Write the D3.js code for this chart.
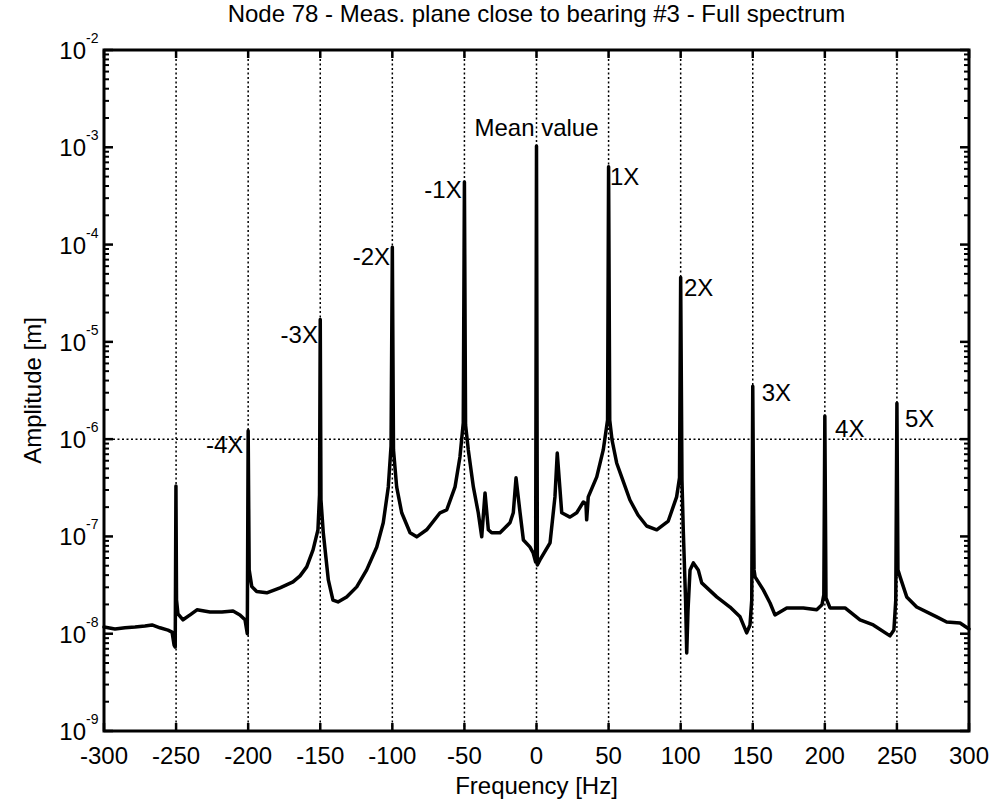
<!DOCTYPE html>
<html><head><meta charset="utf-8">
<script src="https://cdn.jsdelivr.net/npm/d3@7"></script>
<style>body{margin:0;background:#fff}svg text{font-family:"Liberation Sans",Arial,sans-serif;fill:#000}</style>
</head><body><svg id="c" width="998" height="808"></svg>
<script>
const freq = [-300,-292.4,-285.4,-278.5,-271.6,-266.7,-261.2,-255.6,-252.8,-251.4,-250.6,-250.1,-249.7,-248.7,-245.2,-240.3,-235.5,-226.5,-218.2,-210.5,-205.7,-202.2,-200.6,-200.0,-199.3,-197.5,-194.1,-187.1,-177.9,-168.9,-164.0,-159.4,-155.0,-151.6,-150.5,-150.0,-149.5,-147.9,-144.4,-141.2,-137.7,-131.7,-124.7,-117.8,-110.8,-106.3,-102.8,-100.9,-100.0,-99.2,-97.0,-93.5,-87.7,-83.1,-76.2,-66.9,-62.3,-56.5,-53.1,-50.8,-50.0,-49.2,-47.3,-43.8,-40.4,-38.0,-35.7,-33.4,-31.1,-25.3,-18.4,-16.1,-14.2,-11.4,-9.1,-4.6,-2.3,-0.6,0,0.6,2.4,9.4,12.8,14.4,17.5,23.2,27.9,32.5,34.3,34.8,35.9,41.8,46.3,49.3,50.0,50.8,52.4,55.6,59.3,64.8,70.4,76.4,83.4,91.4,97.2,99.2,100.0,100.9,101.8,103.4,104.2,105.1,106.5,108.8,112.2,114.6,125.0,134.2,141.2,145.8,148.1,149.3,150.0,150.9,151.6,157.3,162.0,165.4,173.6,185.1,194.4,198.0,199.3,200.0,200.8,203.6,214.0,224.4,233.6,245.2,247.9,249.2,250.0,250.7,252.2,256.8,263.7,277.6,284.5,293.8,300];
const amp = [1.17e-8,1.12e-8,1.15e-8,1.17e-8,1.20e-8,1.23e-8,1.15e-8,1.09e-8,1.04e-8,7.65e-9,7.3e-9,3.3e-7,2.22e-8,1.60e-8,1.39e-8,1.56e-8,1.76e-8,1.67e-8,1.67e-8,1.71e-8,1.56e-8,1.39e-8,1.0e-8,1.22e-6,4.53e-8,3.05e-8,2.71e-8,2.63e-8,2.96e-8,3.41e-8,3.93e-8,4.86e-8,7.26e-8,1.17e-7,2.67e-7,1.7e-5,2.37e-7,1.09e-7,3.57e-8,2.22e-8,2.12e-8,2.39e-8,3.03e-8,4.53e-8,7.8e-8,1.38e-7,3.23e-7,8.5e-7,9.4e-5,7.75e-7,3.23e-7,1.75e-7,1.09e-7,9.9e-8,1.17e-7,1.75e-7,1.87e-7,3.23e-7,6.56e-7,1.47e-6,4.4e-4,1.40e-6,7.75e-7,3.23e-7,1.75e-7,9.9e-8,2.8e-7,1.17e-7,1.09e-7,1.09e-7,1.38e-7,1.75e-7,4.0e-7,1.75e-7,9.2e-8,7.8e-8,6.76e-8,5.47e-8,1.03e-3,5.1e-8,5.73e-8,8.6e-8,2.55e-7,7.2e-7,1.75e-7,1.58e-7,1.75e-7,2.26e-7,2.16e-7,1.48e-7,2.55e-7,4.09e-7,7.75e-7,1.57e-6,6.3e-4,1.57e-6,9.8e-7,5.69e-7,4.0e-7,2.37e-7,1.66e-7,1.28e-7,1.17e-7,1.44e-7,2.55e-7,4.0e-7,4.6e-5,3.81e-7,1.17e-7,2.22e-8,6.35e-9,1.76e-8,4.53e-8,5.34e-8,4.53e-8,3.33e-8,2.39e-8,1.88e-8,1.49e-8,1.02e-8,1.23e-8,2.22e-8,3.5e-6,4.53e-8,3.84e-8,2.82e-8,2.07e-8,1.56e-8,1.84e-8,1.84e-8,1.76e-8,1.98e-8,2.51e-8,1.73e-6,2.33e-8,1.84e-8,1.84e-8,1.39e-8,1.23e-8,9.5e-9,1.09e-8,2.22e-8,2.34e-6,4.53e-8,3.84e-8,2.39e-8,1.88e-8,1.49e-8,1.32e-8,1.29e-8,1.12e-8];
const xTicks = [-300,-250,-200,-150,-100,-50,0,50,100,150,200,250,300];
const gridFreqs = [-250,-200,-150,-100,-50,0,50,100,150,200,250];
const yTickExps = [-9,-8,-7,-6,-5,-4,-3,-2];
const refLevel = 1e-6;
const labelText = ["Mean value","-1X","1X","-2X","2X","-3X","3X","-4X","4X","5X"];
const labelFreq = [0,-51.9,51.0,-101.6,102.3,-151.6,156.2,-203.4,207.1,255.6];
const labelAmp = [1.31e-3,3.0e-4,4.1e-4,6.2e-5,2.96e-5,9.75e-6,2.49e-6,7.2e-7,1.05e-6,1.32e-6];
const titleText = "Node 78 - Meas. plane close to bearing #3 - Full spectrum";
const xLabel = "Frequency [Hz]";
const yLabel = "Amplitude [m]";

const L = 104, R = 969, T = 50, B = 731;
const svg = d3.select("#c");
const x = d3.scaleLinear().domain([-300,300]).range([L,R]);
const y = d3.scaleLog().domain([1e-9,1e-2]).range([B,T]);

svg.append("rect").attr("width",998).attr("height",808).attr("fill","#fff");

// grid
const g = svg.append("g").attr("stroke","#000").attr("stroke-width",1.5).attr("stroke-dasharray","2,2.5");
g.selectAll("line.v").data(gridFreqs).join("line").attr("class","v")
  .attr("x1",d=>x(d)).attr("x2",d=>x(d)).attr("y1",T).attr("y2",B);
g.append("line").attr("x1",L).attr("x2",R).attr("y1",y(refLevel)).attr("y2",y(refLevel));

// data line
const pts = freq.map((f,i)=>[f,amp[i]]);
svg.append("path").datum(pts)
  .attr("fill","none").attr("stroke","#000").attr("stroke-width",3.5)
  .attr("stroke-linejoin","round").attr("stroke-linecap","round")
  .attr("d", d3.line().x(d=>x(d[0])).y(d=>y(d[1])));

// axes box
svg.append("rect").attr("x",L).attr("y",T).attr("width",R-L).attr("height",B-T)
  .attr("fill","none").attr("stroke","#000").attr("stroke-width",3);

// x ticks top & bottom
const tk = svg.append("g").attr("stroke","#000").attr("stroke-width",2.5);
xTicks.forEach(t=>{
  tk.append("line").attr("x1",x(t)).attr("x2",x(t)).attr("y1",B).attr("y2",B-8);
  tk.append("line").attr("x1",x(t)).attr("x2",x(t)).attr("y1",T).attr("y2",T+8);
});
// y ticks major + minor
yTickExps.forEach(e=>{
  const v = Math.pow(10,e);
  tk.append("line").attr("x1",L).attr("x2",L+9).attr("y1",y(v)).attr("y2",y(v));
  tk.append("line").attr("x1",R).attr("x2",R-9).attr("y1",y(v)).attr("y2",y(v));
  if (e < -2) {
    for (let m=2;m<=9;m++){
      const mv = m*v;
      tk.append("line").attr("stroke-width",2).attr("x1",L).attr("x2",L+5).attr("y1",y(mv)).attr("y2",y(mv));
      tk.append("line").attr("stroke-width",2).attr("x1",R).attr("x2",R-5).attr("y1",y(mv)).attr("y2",y(mv));
    }
  }
});

// x tick labels
svg.append("g").selectAll("text").data(xTicks).join("text")
  .attr("x",d=>x(d)).attr("y",764).attr("text-anchor","middle")
  .attr("font-size",24).text(d=>d);

// y tick labels
yTickExps.forEach(e=>{
  const yy = y(Math.pow(10,e));
  svg.append("text").attr("x",86).attr("y",yy+9).attr("text-anchor","end").attr("font-size",24).text("10");
  svg.append("text").attr("x",86).attr("y",yy-7).attr("text-anchor","start").attr("font-size",14).text(String(e));
});

// annotations
labelText.forEach((t,i)=>{
  const f = labelFreq[i];
  svg.append("text").attr("x",x(f)).attr("y",y(labelAmp[i]))
    .attr("text-anchor", Math.abs(f)<1 ? "middle" : (f<0 ? "end" : "start"))
    .attr("font-size",24).text(t);
});

// titles
svg.append("text").attr("x",(L+R)/2).attr("y",22).attr("text-anchor","middle").attr("font-size",24).text(titleText);
svg.append("text").attr("x",(L+R)/2).attr("y",794).attr("text-anchor","middle").attr("font-size",24).text(xLabel);
svg.append("text").attr("transform",`translate(41,${(T+B)/2}) rotate(-90)`).attr("text-anchor","middle").attr("font-size",24).text(yLabel);
</script></body></html>
